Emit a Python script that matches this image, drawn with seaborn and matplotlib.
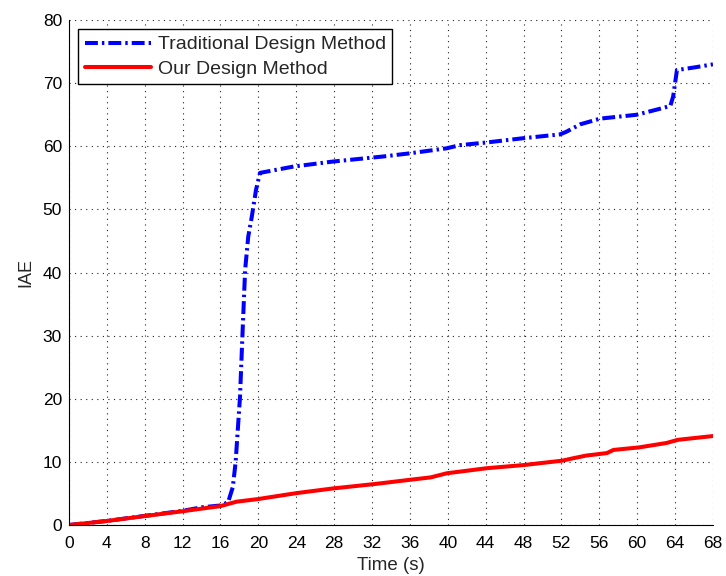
import matplotlib
matplotlib.use("Agg")
import matplotlib.pyplot as plt
from matplotlib.ticker import MultipleLocator
import numpy as np
import pandas as pd
import seaborn as sns

# IAE curves over time for the two controller designs
trad_time = [0, 4, 8, 12, 14, 16, 16.8, 17.3, 17.6, 18.06, 18.34, 18.6, 18.93,
             19.3, 19.75, 20.17, 23.7, 27.9, 33.2, 36, 39.9, 41.3, 44, 48,
             51.85, 52.5, 54, 56.1, 59.9, 62, 63.5, 63.8, 64.2, 66, 68]
trad_iae = [0, 0.65, 1.45, 2.25, 2.8, 3.1, 3.6, 6, 10, 20.3, 30.9, 40.4, 45.7,
            48.8, 53.1, 55.8, 56.8, 57.6, 58.4, 58.9, 59.7, 60.2, 60.6, 61.3,
            61.9, 62.3, 63.5, 64.4, 65.0, 65.8, 66.4, 67.9, 72.1, 72.5, 73.0]

ours_time = [0, 4, 7.9, 12.07, 16, 17.7, 19.9, 24, 27.9, 32.3, 36.2, 38.2, 39.9,
             44.1, 48, 52.1, 53.3, 54.6, 56.8, 57.5, 60.2, 63.1, 64.3, 68]
ours_iae = [0, 0.64, 1.4, 2.2, 3.0, 3.7, 4.1, 5.05, 5.8, 6.5, 7.2, 7.55, 8.2,
            9.0, 9.5, 10.2, 10.6, 11.0, 11.4, 11.9, 12.3, 13.0, 13.5, 14.1]

labels = ["Traditional Design Method", "Our Design Method"]
x_ticks = list(range(0, 69, 4))
y_ticks = list(range(0, 81, 10))

sns.set_style("white")
plt.rcParams["font.family"] = ["Liberation Sans", "DejaVu Sans"]

trad = pd.DataFrame({"t": trad_time, "iae": trad_iae})
ours = pd.DataFrame({"t": ours_time, "iae": ours_iae})

fig = plt.figure(figsize=(7.26, 5.76), dpi=100)
ax = fig.add_axes([0.095, 0.0885, 0.887, 0.8765])

sns.lineplot(data=trad, x="t", y="iae", ax=ax, color="#0000ff", lw=2.9,
             linestyle=(0, (3.2, 1.0, 0.6, 1.0)), estimator=None, sort=False,
             label=labels[0])
sns.lineplot(data=ours, x="t", y="iae", ax=ax, color="#ff0000", lw=2.9,
             estimator=None, sort=False, label=labels[1])

ax.set_xlim(0, 68)
ax.set_ylim(0, 80)
ax.set_xticks(x_ticks)
ax.set_yticks(y_ticks)
ax.xaxis.set_minor_locator(MultipleLocator(1))
ax.yaxis.set_minor_locator(MultipleLocator(2))
ax.tick_params(axis="both", which="major", direction="in", length=5,
               width=0.8, labelsize=12.5, colors="black")
ax.tick_params(axis="x", which="major", pad=8)
ax.tick_params(axis="y", which="major", pad=5)
ax.tick_params(axis="both", which="minor", direction="in", length=2.5,
               width=0.6, colors="black")

ax.grid(True, which="major", linestyle=(0, (1, 4)), color="#222222", lw=0.8)

for side in ("top", "right"):
    ax.spines[side].set_visible(False)
for side in ("left", "bottom"):
    ax.spines[side].set_color("black")
    ax.spines[side].set_linewidth(0.8)

ax.set_xlabel("Time (s)", fontsize=13.5, labelpad=4)
ax.set_ylabel("IAE", fontsize=13, labelpad=6)

leg = ax.legend(loc="upper left", bbox_to_anchor=(0.0144, 0.9816), fontsize=14,
                frameon=True, fancybox=False, handlelength=3.4,
                handletextpad=0.36, borderpad=0.33, labelspacing=0.34,
                borderaxespad=0.0)
leg.get_frame().set_edgecolor("black")
leg.get_frame().set_linewidth(1.0)
leg.get_frame().set_alpha(1)

fig.savefig("out.png", dpi=100)
